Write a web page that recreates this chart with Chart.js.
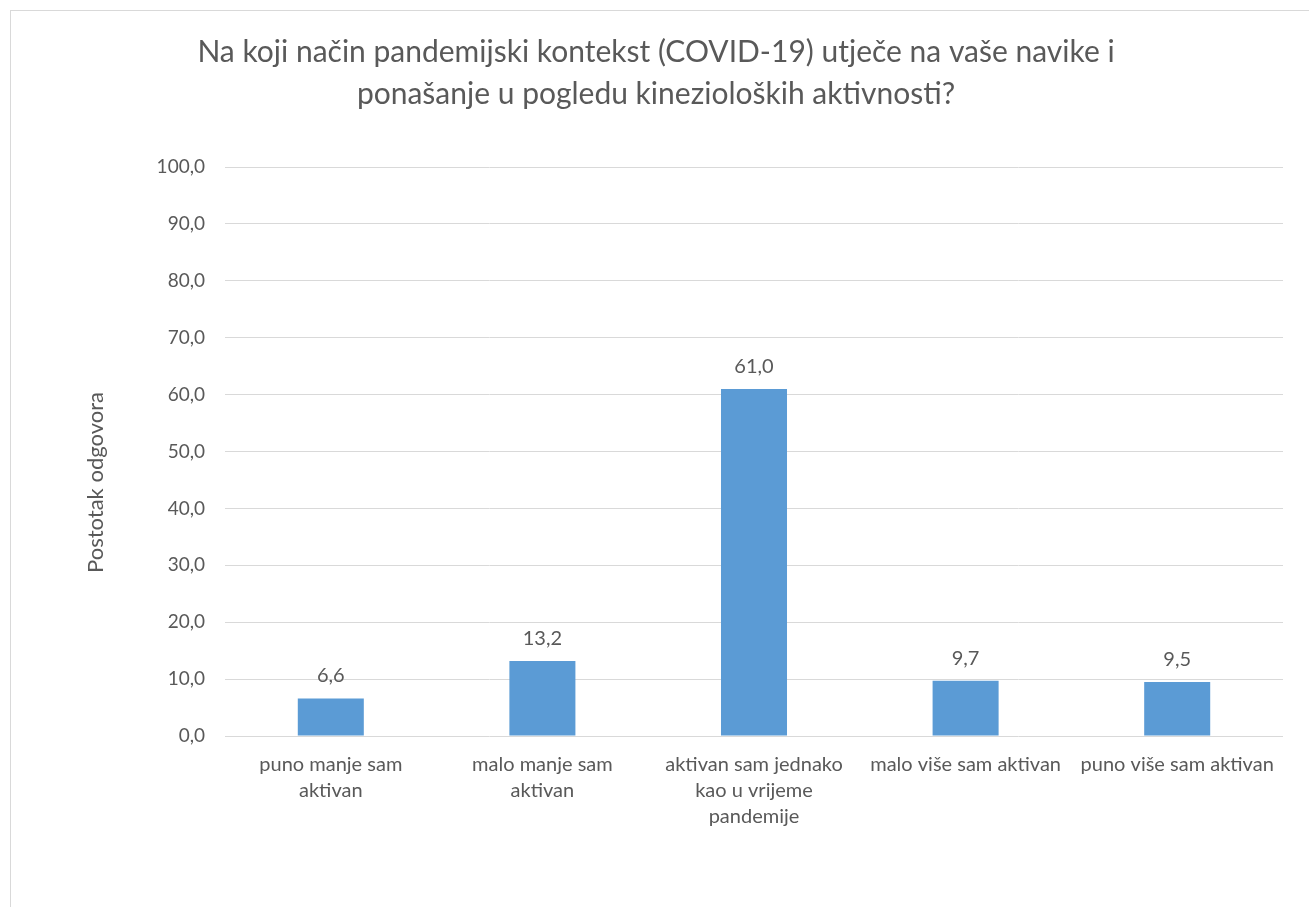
<!DOCTYPE html>
<html>
<head>
<meta charset="utf-8">
<script src="https://cdn.jsdelivr.net/npm/chart.js@4/dist/chart.umd.min.js"></script>
<style>
  body { margin: 0; background: #fff; overflow: hidden; }
  #frame { position: absolute; left: 10px; top: 10px; width: 1320px; height: 920px;
           border-top: 1px solid #d9d9d9; border-left: 1px solid #d9d9d9; }
  #chart { position: absolute; left: 0; top: 0; }
</style>
</head>
<body>
<div id="frame"></div>
<canvas id="chart" width="1309" height="907"></canvas>
<script>
var categories = [
  ["puno manje sam", "aktivan"],
  ["malo manje sam", "aktivan"],
  ["aktivan sam jednako", "kao u vrijeme", "pandemije"],
  "malo više sam aktivan",
  "puno više sam aktivan"
];
var percentages = [6.6, 13.2, 61.0, 9.7, 9.5];
var titleLines = [
  "Na koji način pandemijski kontekst (COVID-19) utječe na vaše navike i",
  "ponašanje u pogledu kinezioloških aktivnosti?"
];
var yAxisTitle = "Postotak odgovora";

var textColor = "#595959";
var fontFamily = "Lato, 'Open Sans', sans-serif";

function fmt(v) {
  return Number(v).toFixed(1).replace(".", ",");
}

// value above each bar, plus the y axis title (sits a bit below the middle, like Excel)
var extraText = {
  id: "extraText",
  afterDatasetsDraw: function (chart) {
    var ctx = chart.ctx;
    ctx.save();
    ctx.font = "20px " + fontFamily;
    ctx.fillStyle = textColor;
    ctx.textAlign = "center";
    ctx.textBaseline = "alphabetic";
    chart.getDatasetMeta(0).data.forEach(function (bar, i) {
      ctx.fillText(fmt(percentages[i]), bar.x, bar.y - 16);
    });

    var area = chart.chartArea;
    ctx.translate(96, (area.top + area.bottom) / 2 + 31);
    ctx.rotate(-Math.PI / 2);
    ctx.font = "22px " + fontFamily;
    ctx.textBaseline = "middle";
    ctx.fillText(yAxisTitle, 0, 0);
    ctx.restore();
  }
};

new Chart(document.getElementById("chart"), {
  type: "bar",
  data: {
    labels: categories,
    datasets: [{
      data: percentages,
      backgroundColor: "#5b9bd5",
      borderWidth: 0,
      categoryPercentage: 1,
      barPercentage: 0.312
    }]
  },
  options: {
    responsive: false,
    animation: false,
    devicePixelRatio: 1,
    layout: { padding: { left: 29, right: 26, top: 0, bottom: 0 } },
    plugins: {
      legend: { display: false },
      tooltip: { enabled: false },
      title: {
        display: true,
        text: titleLines,
        color: textColor,
        font: { family: fontFamily, size: 30, weight: "normal", lineHeight: 1.4 },
        padding: { top: 31, bottom: 52 }
      }
    },
    scales: {
      x: {
        grid: { display: false, drawTicks: false },
        border: { display: false },
        ticks: {
          color: textColor,
          padding: 16,
          maxRotation: 0,
          autoSkip: false,
          font: { family: fontFamily, size: 20, lineHeight: 1.3 }
        },
        afterFit: function (scale) { scale.height = 171; }
      },
      y: {
        min: 0,
        max: 100,
        grid: { color: "#d9d9d9", lineWidth: 1, drawTicks: false },
        border: { display: false },
        ticks: {
          stepSize: 10,
          color: textColor,
          padding: 20,
          font: { family: fontFamily, size: 19 },
          callback: function (v) { return fmt(v); }
        },
        afterFit: function (scale) { scale.width = 196; }
      }
    }
  },
  plugins: [extraText]
});
</script>
</body>
</html>
